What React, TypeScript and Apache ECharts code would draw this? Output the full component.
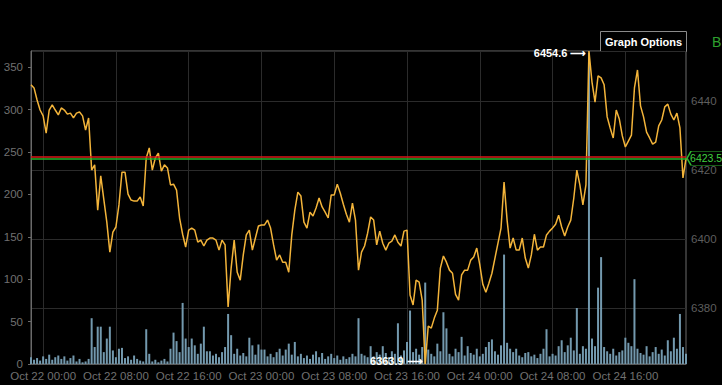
import React, { useEffect, useRef } from "react";
import * as echarts from "echarts";

// 20-minute samples from Oct 21 22:40 to Oct 24 22:40
const startDay = 21;
const startMinute = 22 * 60 + 40;
const stepMinutes = 20;

const priceValues = [
  6444.8, 6443.9, 6440.4, 6437.5, 6435.8, 6430.8, 6437.5, 6439.0, 6437.5, 6436.1,
  6438.1, 6437.5, 6436.3, 6436.6, 6435.2, 6436.6, 6436.9, 6435.8, 6431.7, 6435.2,
  6420.1, 6421.6, 6408.5, 6418.4, 6411.7, 6405.0, 6396.3, 6402.1, 6403.6, 6410.0,
  6419.5, 6419.5, 6413.1, 6411.4, 6411.1, 6411.1, 6412.3, 6409.7, 6423.6, 6426.5,
  6420.1, 6423.6, 6425.0, 6419.8, 6421.6, 6420.7, 6415.8, 6416.0, 6414.3, 6406.2,
  6401.5, 6397.8, 6402.7, 6403.3, 6402.7, 6399.2, 6399.8, 6398.1, 6399.8, 6400.4,
  6400.4, 6399.8, 6396.9, 6399.8, 6398.4, 6380.4, 6391.7, 6399.8, 6390.5, 6388.2,
  6395.5, 6401.3, 6402.7, 6396.9, 6400.4, 6403.9, 6404.2, 6404.2, 6405.6, 6403.3,
  6398.4, 6394.0, 6395.5, 6393.4, 6393.4, 6390.5, 6401.3, 6408.5, 6413.7, 6412.6,
  6405.0, 6403.3, 6407.9, 6406.8, 6409.1, 6412.0, 6409.4, 6407.9, 6406.2, 6412.9,
  6412.9, 6416.0, 6413.4, 6410.2, 6407.3, 6405.0, 6410.5, 6405.6, 6391.1, 6396.3,
  6398.1, 6401.8, 6406.5, 6405.6, 6398.4, 6402.4, 6398.9, 6396.9, 6398.9, 6399.5,
  6401.3, 6399.2, 6398.1, 6402.4, 6402.7, 6383.9, 6381.0, 6388.2, 6387.6, 6382.4,
  6363.9, 6374.9, 6374.3, 6377.2, 6379.5, 6391.7, 6395.2, 6393.4, 6391.1, 6390.2,
  6384.1, 6382.4, 6389.7, 6391.1, 6391.1, 6394.0, 6394.9, 6397.5, 6392.6, 6387.0,
  6384.7, 6387.3, 6390.2, 6394.6, 6398.9, 6403.3, 6416.6, 6405.6, 6397.5, 6400.4,
  6396.9, 6396.9, 6400.4, 6394.6, 6391.7, 6395.5, 6401.5, 6396.9, 6397.8, 6397.8,
  6401.3, 6402.4, 6403.3, 6404.4, 6407.0, 6403.6, 6401.0, 6403.6, 6405.6, 6412.0,
  6420.1, 6415.8, 6410.0, 6415.8, 6454.6, 6445.6, 6439.8, 6447.4, 6446.8, 6444.8,
  6435.5, 6432.3, 6429.4, 6437.5, 6434.9, 6430.0, 6426.8, 6428.5, 6430.2, 6443.9,
  6449.1, 6438.7, 6435.5, 6431.1, 6429.4, 6427.6, 6428.2, 6432.9, 6434.6, 6438.4,
  6439.2, 6436.3, 6434.6, 6436.6, 6432.3, 6417.8, 6423.5,
];

const volumeValues = [
  8, 5, 7, 4, 9, 6, 11, 5, 8, 10,
  6, 9, 4, 7, 10, 3, 6, 2, 3, 6,
  54, 20, 44, 44, 14, 30, 44, 16, 8, 18,
  19, 7, 9, 5, 10, 6, 4, 3, 41, 12,
  3, 5, 2, 4, 6, 3, 18, 37, 27, 14,
  72, 30, 20, 30, 22, 12, 24, 44, 15, 15,
  10, 12, 8, 14, 20, 59, 34, 12, 18, 10,
  13, 9, 31, 22, 11, 23, 17, 17, 9, 12,
  8, 14, 18, 10, 17, 24, 11, 26, 9, 12,
  7, 10, 6, 11, 15, 8, 13, 6, 9, 12,
  7, 10, 5, 9, 6, 8, 12, 9, 54, 12,
  10, 8, 21, 9, 14, 11, 21, 13, 8, 15,
  12, 48, 10, 16, 26, 63, 14, 18, 11, 20,
  96, 17, 12, 9, 24, 15, 61, 42, 12, 9,
  18, 14, 32, 10, 21, 13, 11, 18, 9, 12,
  20, 26, 29, 15, 11, 22, 129, 25, 18, 14,
  18, 10, 8, 13, 14, 9, 11, 7, 12, 18,
  41, 9, 12, 10, 21, 28, 14, 22, 31, 16,
  66, 12, 21, 18, 367, 30, 21, 90, 126, 20,
  15, 12, 18, 10, 14, 16, 31, 25, 21, 100,
  18, 13, 11, 21, 9, 14, 20, 12, 17, 10,
  28, 15, 31, 18, 59, 20, 12,
];

const lastPrice = 6423.5;
const refPrice = 6424.1;
const volumeAxisMax = 369;

const pad = (n: number) => (n < 10 ? "0" + n : String(n));
const categories = priceValues.map((_, i) => {
  const total = startMinute + stepMinutes * i;
  const day = startDay + Math.floor(total / 1440);
  const rem = total % 1440;
  return `Oct ${day} ${pad(Math.floor(rem / 60))}:${pad(rem % 60)}`;
});

const maxIdx = priceValues.indexOf(Math.max(...priceValues));
const minIdx = priceValues.indexOf(Math.min(...priceValues));

const FONT = "Arial, 'Liberation Sans', sans-serif";
const isMajor = (index: number) => categories[index].endsWith("00:00") ||
  categories[index].endsWith("08:00") || categories[index].endsWith("16:00");

export default function App() {
  const ref = useRef<HTMLDivElement>(null);
  useEffect(() => {
    if (!ref.current) return;
    const chart = echarts.init(ref.current, undefined, { renderer: "svg" });
    chart.setOption({
      animation: false,
      backgroundColor: "#000",
      grid: {
        left: 31,
        right: 36,
        top: 51,
        bottom: 21,
        show: true,
        borderColor: "#6a6a6a",
        borderWidth: 1,
      },
      xAxis: {
        type: "category",
        data: categories,
        boundaryGap: false,
        axisLine: { lineStyle: { color: "#5a5a5a" } },
        axisTick: { show: false },
        axisLabel: {
          interval: (index: number) => isMajor(index),
          color: "#707070",
          fontSize: 11.5,
          fontFamily: FONT,
          margin: 6,
        },
        splitLine: {
          show: true,
          interval: (index: number) => isMajor(index),
          lineStyle: { color: "#2b2b2b", width: 1 },
        },
      },
      yAxis: [
        {
          type: "value",
          position: "left",
          min: 0,
          max: volumeAxisMax,
          interval: 50,
          axisLine: { show: true, lineStyle: { color: "#6a6a6a" } },
          axisTick: { show: true, length: 3, lineStyle: { color: "#6a6a6a" } },
          axisLabel: {
            color: "#707070",
            fontSize: 11.5,
            fontFamily: FONT,
            showMaxLabel: false,
          },
          splitLine: { show: false },
        },
        {
          type: "value",
          position: "right",
          min: Math.min(...priceValues),
          max: Math.max(...priceValues),
          splitNumber: 4,
          axisLine: { show: false },
          axisTick: { show: false },
          axisLabel: {
            color: "#5e5e5e",
            fontSize: 11.5,
            fontFamily: FONT,
            margin: 5,
            showMinLabel: false,
            showMaxLabel: false,
            formatter: (v: number) => String(v),
          },
          splitLine: { show: true, lineStyle: { color: "#2b2b2b", width: 1 } },
        },
      ],
      series: [
        {
          type: "bar",
          yAxisIndex: 0,
          data: volumeValues,
          barWidth: 2,
          itemStyle: { color: "#7399ae" },
          z: 2,
        },
        {
          type: "line",
          yAxisIndex: 1,
          data: priceValues,
          showSymbol: false,
          symbol: "none",
          lineStyle: { color: "#f3b43a", width: 1.5 },
          z: 3,
          markLine: {
            silent: true,
            symbol: ["none", "none"],
            label: { show: false },
            data: [
              { yAxis: refPrice, lineStyle: { color: "#d81818", width: 1.5, type: "solid" } },
              { yAxis: lastPrice, lineStyle: { color: "#22b32a", width: 1.5, type: "solid" } },
            ],
          },
          markPoint: {
            silent: true,
            data: [
              {
                coord: [categories[maxIdx], priceValues[maxIdx]],
                symbol: "circle",
                symbolSize: 1,
                itemStyle: { color: "rgba(0,0,0,0)" },
                label: {
                  show: true,
                  position: "left",
                  distance: 2,
                  offset: [0, 2],
                  formatter: `${priceValues[maxIdx].toFixed(1)} \u27F6`,
                  color: "#fff",
                  fontWeight: "bold",
                  fontSize: 11,
                  fontFamily: FONT,
                },
              },
              {
                coord: [categories[minIdx], priceValues[minIdx]],
                symbol: "circle",
                symbolSize: 1,
                itemStyle: { color: "rgba(0,0,0,0)" },
                label: {
                  show: true,
                  position: "left",
                  distance: 2,
                  offset: [0, -3],
                  formatter: `${priceValues[minIdx].toFixed(1)} \u27F6`,
                  color: "#fff",
                  fontWeight: "bold",
                  fontSize: 11,
                  fontFamily: FONT,
                },
              },
              {
                coord: [categories[categories.length - 1], lastPrice],
                symbol: "path://M0,7L4,0L46,0L46,14L4,14Z",
                symbolSize: [46, 14],
                symbolOffset: [24, 0],
                itemStyle: { color: "#000", borderColor: "#2fb52f", borderWidth: 1 },
                label: {
                  show: true,
                  position: "insideLeft",
                  distance: 4,
                  formatter: lastPrice.toFixed(1),
                  color: "#3fcf3f",
                  fontSize: 10.5,
                  fontFamily: FONT,
                },
              },
            ],
          },
        },
      ],
      graphic: [
        {
          type: "group",
          left: 600,
          top: 31,
          children: [
            {
              type: "rect",
              shape: { x: 0, y: 0, width: 86, height: 20 },
              style: { fill: "#000", stroke: "#8a8a8a", lineWidth: 1 },
            },
            {
              type: "text",
              x: 43,
              y: 10,
              style: {
                text: "Graph Options",
                fill: "#fff",
                font: `bold 11px ${FONT}`,
                align: "center",
                verticalAlign: "middle",
              },
            },
          ],
        },
        {
          type: "text",
          left: 712,
          top: 35,
          style: { text: "B", fill: "#2ea02e", font: `14px ${FONT}` },
        },
      ],
    });
    return () => chart.dispose();
  }, []);
  return (
    <div
      ref={ref}
      style={{ position: "absolute", left: 0, top: 0, width: 722, height: 385, background: "#000" }}
    />
  );
}
